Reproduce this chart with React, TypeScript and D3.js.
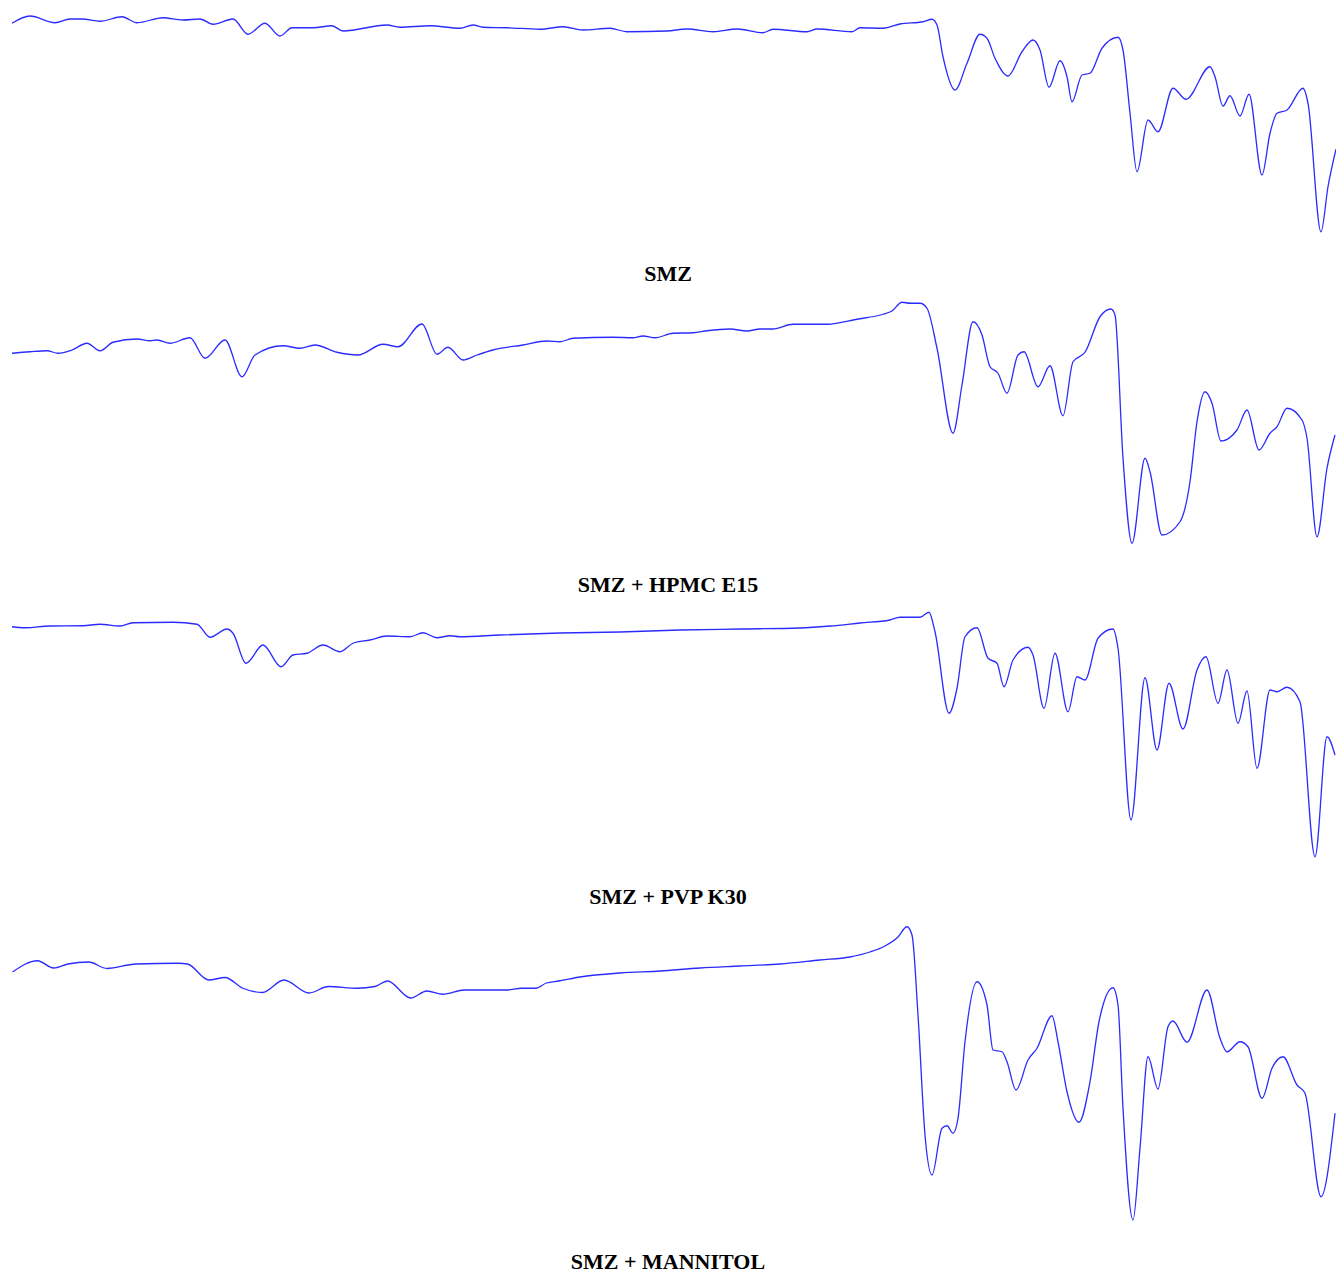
import React from "react";
import * as d3 from "d3";

// Wavenumber (cm-1) positions and transmittance (%T) for each spectrum
const smzWave = [3995,3950,3887.5,3850,3820,3775,3720,3682.5,3617.5,3567.5,3525,3492.5,3442.5,3405,3362.5,3325,3295,3242.5,3195,3167.5,3057.5,3025,2950,2875,2842.5,2817.5,2757.5,2675,2617.5,2567.5,2500,2457.5,2357.5,2307.5,2242.5,2182.5,2117.5,2092.5,2007.5,1982.5,1895,1875,1817.5,1775,1717.5,1695,1682.5,1667.5,1637.5,1607.5,1575,1557.5,1537.5,1505,1470,1442.5,1425,1402.5,1375,1357.5,1345,1320,1300,1270,1230,1217.5,1200,1182.5,1155,1130,1092.5,1060,1000,987.5,967.5,950,925,902.5,870,850,832.5,807.5,767.5,755,722.5,705,685];
const smzT = [90.7,93.6,90.9,92.4,92.4,91.5,93.3,90.9,92.9,92,92.4,90.3,92.4,86.3,90.7,85.6,88.9,88.9,89.7,87.6,90,89.1,89.7,88.7,90,89.1,88.9,88.3,89.3,88,88.7,87.3,87.6,88.4,87.3,88.4,86.9,88.3,87.3,88.4,87.3,88.9,88.7,90.4,91.3,92.3,90,77.3,64,74.7,86.3,84.7,76.7,69.6,79.3,84,80,65.1,75.7,69.3,59.3,70,70.7,80.7,85.1,80,54.8,31.3,52,47.3,64.7,60.3,73.3,69.3,57.6,61.7,53.6,62.3,30,46.7,54.7,56,64.7,58.7,7.3,25.3,40.3];

const hpmcWave = [3995,3950,3907.5,3880,3845,3807.5,3775,3742.5,3682.5,3650,3632.5,3600,3550,3512.5,3462.5,3420,3387.5,3317.5,3275,3237.5,3182.5,3130,3067.5,3030,2970,2932.5,2905,2867.5,2832.5,2792.5,2717.5,2657.5,2625,2592.5,2492.5,2442.5,2417.5,2387.5,2342.5,2292.5,2257.5,2200,2157.5,2125,2092.5,2042.5,1957.5,1882.5,1817.5,1795,1770,1750,1725,1707.5,1682.5,1642.5,1620,1592.5,1570,1550,1530,1507.5,1480,1465,1430,1400,1367.5,1342.5,1312.5,1275,1247.5,1237.5,1217.5,1195,1162.5,1150,1120,1075,1050,1032.5,1012.5,995,972.5,932.5,907.5,877.5,850,832.5,807.5,770,757.5,732.5,707.5,687.5];
const hpmcT = [78.7,79.3,79.7,78.7,80,82.7,79.7,83.1,84.4,83.7,84,82.7,84.9,76.7,84,69.3,78,81.7,80.7,82,79.1,78,82.3,81.3,90.4,78.3,81.1,76,78,80,82,83.6,83.3,84.7,85.1,84.9,85.6,84.9,86.7,86.9,87.7,88.4,87.6,88.4,88.4,90.3,90.3,92.3,94.3,95.6,99.1,98.7,98.7,96.7,80.7,46.7,66,91.3,86,73.3,70.7,62.7,78,79.3,65.3,73.7,53.7,75.3,79.1,93.3,96.4,94,36.7,2.7,36.7,31.3,6,11.3,27.3,51.3,63.3,58.7,43.6,48,56,40,46.7,49.3,56.7,52,44.7,5.3,32.7,46];

const pvpWave = [3995,3962.5,3900,3817.5,3775,3725,3692.5,3592.5,3532.5,3500,3457.5,3442.5,3410,3367.5,3322.5,3292.5,3257.5,3217.5,3175,3142.5,3100,3057.5,3000,2967.5,2932.5,2900,2875,2775,2625,2475,2325,2175,2025,1950,1875,1800,1775,1725,1702.5,1687.5,1652.5,1632.5,1612.5,1582.5,1555,1532.5,1515,1492.5,1455,1442.5,1415,1387.5,1355,1332.5,1312.5,1280,1242.5,1230,1197.5,1162.5,1132.5,1102.5,1067.5,1032.5,1010,980,957.5,930,907.5,882.5,850,832.5,807.5,775,737.5,707.5,687.5];
const pvpT = [93.3,92.9,93.6,93.7,94.3,93.6,94.9,95.1,94.3,89.1,92.4,90.7,78.7,86,77.3,82,82.7,86,83.3,86.7,88,89.6,89.3,90.9,88.9,89.7,89.3,90,90.8,91.2,92,92.4,92.8,93.6,94.8,96,97.1,97.1,99.1,91.3,58.7,68.7,89.3,92.9,80.7,78.7,69.3,80,85.1,82,60.7,82.7,59.3,73.3,72,88.7,92.4,84.7,16,72.9,44,70.7,52.4,76,81.3,62.7,76,54.7,67.6,36.7,68,67.3,69.1,63.3,1.3,49.3,42];

const mannitolWave = [3993.75,3931.25,3891,3855.25,3803.5,3757.25,3685.75,3578.5,3556.25,3502.75,3462.5,3417.75,3368.75,3315.25,3252.75,3203.5,3132.25,3087.5,3056.25,2998.25,2958,2917.75,2864.25,2757.25,2721.5,2685.75,2659,2627.75,2575,2475,2375,2275,2175,2075,1975,1900,1850,1812.5,1780,1757.5,1745,1730,1712.5,1695,1670,1657.5,1642.5,1630,1612.5,1582.5,1557.5,1542.5,1520,1507.5,1485,1455,1432.5,1395,1380,1357.5,1327.5,1300,1277.5,1242.5,1230,1217.5,1192.5,1175,1155,1130,1105,1092.5,1057.5,1007.5,975,957.5,925,905,870,845,817.5,782.5,762.5,722.5,687.5];
const mannitolT = [79.2,83.7,80.8,82.4,83.2,80.6,82.4,82.7,82.4,76,77,72.7,71,76,70.8,73.4,72.7,73.4,75.6,68.8,71.6,70.3,72,72,72.7,72.7,74.8,75.6,77.2,78.8,79.6,80.8,81.6,82.4,84,85.2,87.2,89.6,93.2,97.3,94,62,14,-2,16.7,17.7,14.7,20.7,51.3,75.3,66,48,47.3,43.3,32,44,48.7,61.7,51.3,31.3,19.1,35.3,59.3,72.9,66,24.7,-20,8.7,45.3,32.4,57.3,59.6,51.1,72,52.7,47.3,51.3,49.3,28.7,40.7,45.3,34,30.7,-10.7,22.7];

const labels = ["SMZ", "SMZ + HPMC E15", "SMZ + PVP K30", "SMZ + MANNITOL"];

const W = 1336;
const H = 1274;

type Panel = {
  wave: number[];
  t: number[];
  label: string;
  top: number;
  height: number;
  yDomain: [number, number];
  labelY: number;
};

const panels: Panel[] = [
  { wave: smzWave, t: smzT, label: labels[0], top: 0, height: 250, yDomain: [0, 100], labelY: 281 },
  { wave: hpmcWave, t: hpmcT, label: labels[1], top: 300, height: 250, yDomain: [0, 100], labelY: 592 },
  { wave: pvpWave, t: pvpT, label: labels[2], top: 610, height: 250, yDomain: [0, 100], labelY: 904 },
  { wave: mannitolWave, t: mannitolT, label: labels[3], top: 920, height: 310, yDomain: [-24, 100], labelY: 1269 },
];

const x = d3.scaleLinear().domain([4000, 685]).range([10, 1336]);

export default function App() {
  return (
    <svg
      width={W}
      height={H}
      style={{ position: "absolute", left: 0, top: 0, background: "#ffffff" }}
    >
      <rect x={0} y={0} width={W} height={H} fill="#ffffff" />
      {panels.map((p, i) => {
        const y = d3
          .scaleLinear()
          .domain(p.yDomain)
          .range([p.top + p.height, p.top]);
        const pts: [number, number][] = p.wave.map((w, k) => [w, p.t[k]]);
        const line = d3
          .line<[number, number]>()
          .x((d) => x(d[0]))
          .y((d) => y(d[1]))
          .curve(d3.curveMonotoneX);
        return (
          <g key={i}>
            <path
              d={line(pts) || ""}
              fill="none"
              stroke="#2b2bff"
              strokeWidth={1.3}
              strokeLinejoin="round"
            />
            <text
              x={668}
              y={p.labelY}
              textAnchor="middle"
              fontFamily="'Liberation Serif', 'DejaVu Serif', serif"
              fontWeight="bold"
              fontSize={22}
              fill="#000000"
            >
              {p.label}
            </text>
          </g>
        );
      })}
    </svg>
  );
}
